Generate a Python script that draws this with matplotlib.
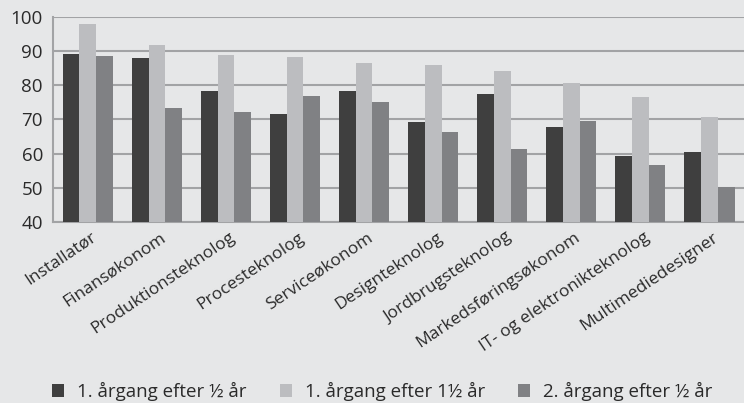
import matplotlib
matplotlib.use("Agg")
import matplotlib.pyplot as plt
import matplotlib.transforms as mtransforms
import numpy as np
from matplotlib.patches import Patch

categories = ["Installatør", "Finansøkonom", "Produktionsteknolog", "Procesteknolog",
              "Serviceøkonom", "Designteknolog", "Jordbrugsteknolog",
              "Markedsføringsøkonom", "IT- og elektronikteknolog", "Multimediedesigner"]
series_names = ["1. årgang efter ½ år", "1. årgang efter 1½ år", "2. årgang efter ½ år"]
s1 = [89.1, 88.0, 78.3, 71.6, 78.3, 69.3, 77.5, 67.8, 59.4, 60.5]
s2 = [97.9, 91.8, 88.8, 88.2, 86.5, 85.9, 84.2, 80.7, 76.6, 70.7]
s3 = [88.5, 73.4, 72.2, 76.9, 75.1, 66.4, 61.4, 69.6, 56.7, 50.3]
yticks = [40, 50, 60, 70, 80, 90, 100]

colors = ["#3f3f3f", "#bcbdc0", "#808184"]
bg = "#e6e7e8"
grid = "#a2a3a5"
txt = "#2a2a2a"

plt.rcParams['font.family'] = ['Open Sans', 'DejaVu Sans']

fig = plt.figure(figsize=(7.44, 4.03), dpi=100, facecolor=bg)
W, H = 744, 403
ax = fig.add_axes([53.3 / W, 1 - 222.3 / H, (744 - 53.3) / W, (222.3 - 16.7) / H])
ax.set_facecolor(bg)

x = np.arange(len(categories))
bw = 0.242
for i, (vals, c) in enumerate(zip([s1, s2, s3], colors)):
    ax.bar(x + (i - 1) * bw, np.array(vals) - 40, bottom=40, width=bw, color=c,
           zorder=3, label=series_names[i])

ax.set_xlim(-0.5, len(categories) - 0.5)
ax.set_ylim(40, 100)
ax.set_yticks(yticks)
ax.set_yticklabels([str(t) for t in yticks], fontsize=13.5, color=txt)
ax.tick_params(axis='y', length=0, pad=7.5)
ax.tick_params(axis='x', length=0)
ax.yaxis.grid(True, color=grid, linewidth=1.5, zorder=0)
for s in ['top', 'right']:
    ax.spines[s].set_visible(False)
for s in ['left', 'bottom']:
    ax.spines[s].set_color(grid)
    ax.spines[s].set_linewidth(1.5)

ax.set_xticks(x)
ax.set_xticklabels([])
off = mtransforms.offset_copy(ax.transData, fig=fig, x=3, y=-7, units='dots')
for xi, lab in zip(x, categories):
    ax.text(xi, 40, lab, rotation=34, ha='right', va='top', rotation_mode='anchor',
            fontsize=12.5, color=txt, transform=off, clip_on=False)

handles = [Patch(facecolor=c, edgecolor='none') for c in colors]
fig.legend(handles, series_names, loc='center left', bbox_to_anchor=(52 / W, 1 - 391.5 / H), ncol=3,
           frameon=False, fontsize=13.5, handlelength=0.64, handleheight=0.64,
           handletextpad=0.7, columnspacing=1.76, labelcolor=txt,
           borderpad=0, borderaxespad=0)

fig.savefig("out.png", dpi=100, facecolor=bg)
